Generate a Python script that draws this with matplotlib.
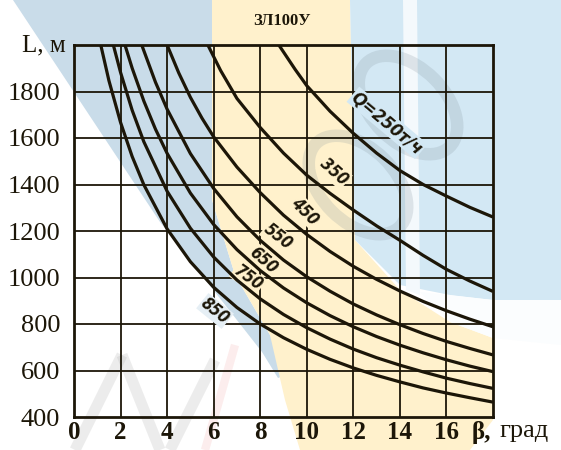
import numpy as np
import matplotlib.pyplot as plt
from matplotlib.patches import Polygon, Ellipse

# Curves L(beta) for different capacities Q, t/h
BETA_250 = [8.8, 9.5, 10, 11, 12, 13, 14, 15, 16, 17, 18]
L_250 = [2000, 1895, 1825, 1715, 1620, 1535, 1460, 1400, 1350, 1302, 1260]

BETA_350 = [5.75, 6.3, 7, 8, 9, 10, 11, 12, 13, 14, 15, 16, 17, 18]
L_350 = [2000, 1890, 1770, 1645, 1535, 1440, 1362, 1290, 1222, 1160, 1095, 1035, 985, 940]

BETA_450 = [4.0, 4.5, 5, 5.5, 6, 7, 8, 9, 10, 11, 12, 13, 14, 15, 16, 17, 18]
L_450 = [2000, 1880, 1775, 1685, 1605, 1475, 1365, 1268, 1185, 1112, 1048, 992, 942, 897, 857, 821, 788]

BETA_550 = [2.91, 3.5, 4, 5, 6, 7, 8, 9, 10, 11, 12, 13, 14, 15, 16, 17, 18]
L_550 = [2000, 1840, 1724, 1533, 1383, 1261, 1160, 1075, 1003, 941, 886, 839, 797, 759, 725, 695, 667]

BETA_650 = [2.19, 2.5, 3, 3.5, 4, 5, 6, 7, 8, 9, 10, 11, 12, 13, 14, 15, 16, 17, 18]
L_650 = [2000, 1900, 1759, 1638, 1534, 1363, 1228, 1120, 1030, 955, 891, 836, 788, 746, 709, 676, 646, 619, 595]

BETA_750 = [1.69, 2, 2.5, 3, 4, 5, 6, 7, 8, 9, 10, 11, 12, 13, 14, 15, 16, 17, 18]
L_750 = [2000, 1882, 1719, 1584, 1371, 1212, 1088, 989, 908, 841, 784, 735, 692, 655, 623, 594, 567, 544, 523]

BETA_850 = [1.15, 1.5, 2, 2.5, 3, 4, 5, 6, 7, 8, 9, 10, 11, 12, 13, 14, 15, 16, 17, 18]
L_850 = [2000, 1847, 1667, 1520, 1399, 1209, 1068, 958, 871, 800, 741, 691, 648, 611, 579, 551, 525, 503, 483, 464]

CURVES = [(BETA_250, L_250), (BETA_350, L_350), (BETA_450, L_450), (BETA_550, L_550),
          (BETA_650, L_650), (BETA_750, L_750), (BETA_850, L_850)]

# curve captions: text, beta, L, rotation
CAPTIONS = [("Q=250т/ч", 13.45, 1665, -40),
            ("350", 11.17, 1454, -42),
            ("450", 9.92, 1286, -45),
            ("550", 8.76, 1174, -38),
            ("650", 8.12, 1075, -41),
            ("750", 7.47, 998, -36),
            ("850", 6.06, 856, -39)]

X_TICKS = [0, 2, 4, 6, 8, 10, 12, 14, 16]
Y_TICKS = [400, 600, 800, 1000, 1200, 1400, 1600, 1800]

INK = "#1c1608"
SERIF = ["Liberation Serif", "DejaVu Serif"]
BLUE_L = "#c9dce9"
BLUE_R = "#d3e8f4"
YELLOW = "#fff1cc"

fig = plt.figure(figsize=(5.61, 4.5), dpi=100)

# background tint layer in pixel coordinates
bg = fig.add_axes([0, 0, 1, 1], zorder=0)
bg.set_xlim(0, 561)
bg.set_ylim(450, 0)
bg.axis("off")
blue_left = [(13, 0), (212, 0), (212, 200), (235, 275), (270, 335), (292, 372),
             (278, 378), (262, 352), (160, 222)]
yellow = [(212, 0), (350, 0), (355, 240), (400, 290), (450, 322), (493, 338),
          (493, 420), (470, 450), (300, 450), (285, 400), (270, 335), (235, 275), (212, 200)]
blue_right = [(350, 0), (561, 0), (561, 300), (493, 300), (450, 295), (400, 285), (355, 240)]
white_gap = [(420, 292), (493, 300), (561, 300), (561, 345), (493, 338), (450, 322)]
bg.add_patch(Polygon(blue_left, closed=True, color=BLUE_L, lw=0))
bg.add_patch(Polygon(yellow, closed=True, color=YELLOW, lw=0))
bg.add_patch(Polygon(blue_right, closed=True, color=BLUE_R, lw=0))
bg.add_patch(Polygon(white_gap, closed=True, color="#fbfdfe", lw=0))
bg.add_patch(Polygon([(403, 0), (417, 0), (420, 295), (406, 290)], closed=True,
                     color="#f4f9fc", lw=0))

# faint grey rings and strokes of the background lettering
for cx, cy in [(408, 105), (358, 185)]:
    bg.add_patch(Ellipse((cx, cy), 118, 74, angle=45, fill=False,
                         ec="#7f8f99", lw=9, alpha=0.2))
for (x0, y0), (x1, y1) in [((75, 450), (122, 355)), ((122, 355), (160, 450)),
                           ((170, 450), (215, 360))]:
    bg.plot([x0, x1], [y0, y1], color="#9a9a9a", lw=8, alpha=0.18,
            solid_capstyle="butt")
bg.plot([205, 235], [450, 345], color="#f08a8a", lw=6, alpha=0.15,
        solid_capstyle="butt")

ax = fig.add_axes([74 / 561, 33 / 450, 419 / 561, 372 / 450], zorder=1)
ax.patch.set_alpha(0)
ax.set_xlim(0, 18)
ax.set_ylim(400, 2000)

for x in range(2, 18, 2):
    ax.axvline(x, color=INK, lw=1.3, zorder=1)
for y in range(600, 2000, 200):
    ax.axhline(y, color=INK, lw=1.3, zorder=1)
for s in ax.spines.values():
    s.set_linewidth(2.0)
    s.set_color(INK)

for beta, length in CURVES:
    ax.plot(beta, length, color=INK, lw=2.3, solid_capstyle="butt", zorder=3)

cap_bg = [BLUE_R, YELLOW, YELLOW, YELLOW, YELLOW, YELLOW, "#e6eff5"]
cap_size = [13, 12, 12, 12, 12, 12, 12]
for (text, b, l, rot), fc, fs in zip(CAPTIONS, cap_bg, cap_size):
    ax.text(b, l, text, rotation=rot, rotation_mode="anchor", ha="center", va="center",
            fontsize=fs, fontweight="bold", style="italic", color=INK,
            family=["DejaVu Sans"], fontstretch="condensed", zorder=2,
            bbox=dict(boxstyle="square,pad=0.05", fc=fc, ec="none"))

ax.set_xticks(X_TICKS)
ax.set_xticklabels([str(v) for v in X_TICKS], family=SERIF, fontsize=18, fontweight="bold")
ax.set_yticks(Y_TICKS)
ax.set_yticklabels([str(v) for v in Y_TICKS], family=SERIF, fontsize=19)
ax.tick_params(length=0, colors=INK)
ax.tick_params(axis="y", pad=10)
ax.tick_params(axis="x", pad=3)

ax.text(-0.02, 1.0, "L, м", transform=ax.transAxes, ha="right", va="center",
        fontsize=18, family=SERIF, color=INK)
ax.annotate("β,", xy=(17.1, 0), xycoords=("data", "axes fraction"),
            xytext=(0, -3), textcoords="offset points", ha="left", va="top",
            fontsize=18, fontweight="bold", family=SERIF, color=INK)
ax.annotate("град", xy=(18.3, 0), xycoords=("data", "axes fraction"),
            xytext=(0, -2), textcoords="offset points", ha="left", va="top",
            fontsize=19, family=SERIF, color=INK)

fig.text(282 / 561, 1 - 21 / 450, "ЗЛ100У", ha="center", va="center",
         fontsize=12, fontweight="bold", family=SERIF, color=INK)

fig.savefig("out.png", dpi=100)
